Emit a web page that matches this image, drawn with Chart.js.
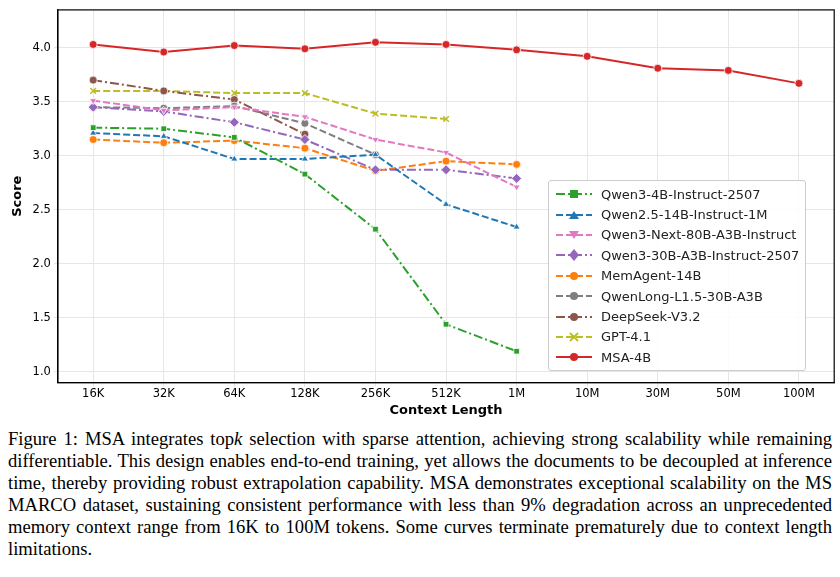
<!DOCTYPE html>
<html><head><meta charset="utf-8">
<script src="https://cdn.jsdelivr.net/npm/chart.js@4"></script>
<style>
body{margin:0;background:#fff;width:840px;height:577px;overflow:hidden}
#wrap{position:relative;width:840px;height:418px}
#legend{position:absolute;left:548px;top:180px;width:256px;border:1px solid #ccc;border-radius:3px;background:rgba(255,255,255,.85);padding:3px 0 2px 0;font:13px "DejaVu Sans";color:#222}
#legend div{display:flex;align-items:center;height:20.4px}
#legend svg{margin:0 8px 0 6px}
#cap{font:18.6px "Liberation Serif",serif;line-height:22px;margin:10px 8px 0 8px;text-align:justify;color:#000}
</style></head><body>
<div id="wrap"><canvas id="c" width="840" height="418"></canvas><div id="legend"></div></div>
<div id="cap">Figure 1: MSA integrates top<i>k</i> selection with sparse attention, achieving strong scalability while remaining differentiable. This design enables end-to-end training, yet allows the documents to be decoupled at inference time, thereby providing robust extrapolation capability. MSA demonstrates exceptional scalability on the MS MARCO dataset, sustaining consistent performance with less than 9% degradation across an unprecedented memory context range from 16K to 100M tokens. Some curves terminate prematurely due to context length limitations.</div>
<script>
const contextLengths = ['16K','32K','64K','128K','256K','512K','1M','10M','30M','50M','100M'];
const qwen3_4b = [3.26,3.25,3.17,2.83,2.32,1.44,1.19];
const qwen25_14b = [3.21,3.18,2.97,2.97,3.01,2.55,2.34];
const qwen3Next = [3.51,3.42,3.45,3.36,3.15,3.03,2.71];
const qwen3_30b = [3.45,3.41,3.31,3.15,2.87,2.87,2.79];
const memAgent = [3.15,3.12,3.14,3.07,2.86,2.95,2.92];
const qwenLong = [3.45,3.44,3.46,3.30,3.01];
const deepSeek = [3.70,3.60,3.52,3.20];
const gpt41 = [3.60,3.60,3.58,3.58,3.39,3.34];
const msa4b = [4.03,3.96,4.02,3.99,4.05,4.03,3.98,3.92,3.81,3.79,3.67];

const dashDot=[9,3,2,3], dash=[7,3];
const series = [
  ['Qwen3-4B-Instruct-2507',qwen3_4b,'#2ca02c','rect',0,dashDot],
  ['Qwen2.5-14B-Instruct-1M',qwen25_14b,'#1f77b4','triangle',0,dash],
  ['Qwen3-Next-80B-A3B-Instruct',qwen3Next,'#e377c2','triangle',180,dash],
  ['Qwen3-30B-A3B-Instruct-2507',qwen3_30b,'#9467bd','rectRot',0,dashDot],
  ['MemAgent-14B',memAgent,'#ff7f0e','circle',0,dash],
  ['QwenLong-L1.5-30B-A3B',qwenLong,'#7f7f7f','circle',0,dash],
  ['DeepSeek-V3.2',deepSeek,'#8c564b','circle',0,dashDot],
  ['GPT-4.1',gpt41,'#bcbd22','crossRot',0,dash],
  ['MSA-4B',msa4b,'#d62728','circle',0,[]]
];
const datasets = series.map(([label,data,color,ps,rot,d])=>({
  label,data,borderColor:color,backgroundColor:color,pointStyle:ps,pointRotation:rot,
  pointRadius:ps==='rectRot'?5:4,pointBorderColor:ps==='crossRot'?color:'#fff',pointBorderWidth:ps==='crossRot'?1.5:0.8,
  borderWidth:2,borderDash:d,tension:0
}));
new Chart(document.getElementById('c'),{
  type:'line',
  data:{labels:contextLengths,datasets},
  options:{responsive:false,animation:false,
    layout:{padding:{left:6,right:2,top:0}},
    plugins:{legend:{display:false},tooltip:{enabled:false}},
    scales:{
      x:{offset:true,grid:{color:'#e6e6e6',offset:false,tickLength:4},
        border:{color:'#000',width:1.2},
        ticks:{color:'#000',padding:1,font:{family:'DejaVu Sans',size:11.5}},
        title:{display:true,text:'Context Length',color:'#000',font:{family:'DejaVu Sans',size:13,weight:'bold'},padding:{top:0,bottom:0}}},
      y:{min:0.9,max:4.35,grid:{color:'#e6e6e6',tickLength:4},
        border:{color:'#000',width:1.2},
        afterBuildTicks:a=>{a.ticks=[1,1.5,2,2.5,3,3.5,4].map(v=>({value:v}))},
        ticks:{color:'#000',font:{family:'DejaVu Sans',size:11.5},callback:v=>v.toFixed(1)},
        title:{display:true,text:'Score',color:'#000',font:{family:'DejaVu Sans',size:13,weight:'bold'}}}
    }
  },
  plugins:[{id:'frame',afterDraw(ch){const a=ch.chartArea,c=ch.ctx;c.save();c.strokeStyle='#000';c.lineWidth=1.2;c.strokeRect(a.left,a.top,a.right-a.left,a.bottom-a.top);c.restore();}}]
});
const lg=document.getElementById('legend');
series.forEach(([label,,color,ps,rot,d])=>{
  let m='';
  if(ps==='rect')m='<rect x="15" y="6" width="8" height="8" fill="'+color+'"/>';
  else if(ps==='triangle')m=rot?'<polygon points="14,6 24,6 19,14" fill="'+color+'"/>':'<polygon points="14,14 24,14 19,6" fill="'+color+'"/>';
  else if(ps==='rectRot')m='<polygon points="19,4 24,10 19,16 14,10" fill="'+color+'"/>';
  else if(ps==='crossRot')m='<path d="M15,6 L23,14 M23,6 L15,14" stroke="'+color+'" stroke-width="1.8"/>';
  else m='<circle cx="19" cy="10" r="4" fill="'+color+'"/>';
  lg.innerHTML+='<div><svg width="38" height="20"><line x1="1" y1="10" x2="37" y2="10" stroke="'+color+'" stroke-width="2" stroke-dasharray="'+(d.length?d.join(','):'none')+'"/>'+m+'</svg>'+label+'</div>';
});
</script></body></html>
